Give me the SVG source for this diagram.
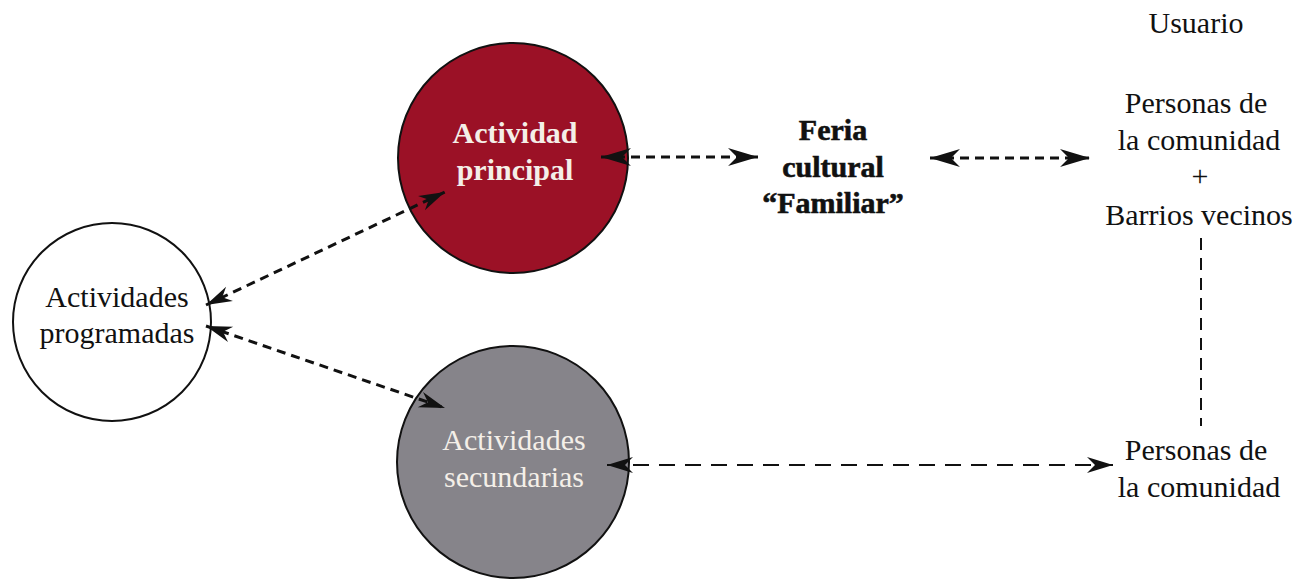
<svg xmlns="http://www.w3.org/2000/svg" width="1301" height="579" viewBox="0 0 1301 579">
<style>
.t{font-family:'Liberation Serif',serif;font-size:30px;text-anchor:middle;fill:#111}
.w{fill:#f4efe8}
.b{font-weight:bold}
.node{stroke:#111;stroke-width:2}
.c1{fill:none;stroke:#111;stroke-width:3;stroke-dasharray:9 6}
.c2{fill:none;stroke:#111;stroke-width:2.2;stroke-dasharray:16 10}
.c3{fill:none;stroke:#111;stroke-width:2;stroke-dasharray:12 8}
</style>
<defs>
<marker id="ah" viewBox="-32 -11 34 22" refX="0" refY="0" markerWidth="34" markerHeight="22" markerUnits="userSpaceOnUse" orient="auto-start-reverse">
<path d="M0,0 L-30,-9 L-21,0 L-30,9 Z" fill="#111"/>
</marker>
<marker id="as" viewBox="-28 -10 30 20" refX="0" refY="0" markerWidth="30" markerHeight="20" markerUnits="userSpaceOnUse" orient="auto-start-reverse">
<path d="M0,0 L-26,-8 L-18,0 L-26,8 Z" fill="#111"/>
</marker>
</defs>
<rect width="1301" height="579" fill="#fff"/>
<g id="n-principal">
<circle class="node" cx="513" cy="158" r="115" fill="#9b1126"/>
<text class="t w b" x="515" y="143">Actividad</text>
<text class="t w b" x="515" y="180">principal</text>
</g>
<g id="n-programadas">
<circle class="node" cx="112" cy="322" r="99" fill="#fff"/>
<text class="t" x="117" y="307">Actividades</text>
<text class="t" x="117" y="343">programadas</text>
</g>
<g id="n-secundarias">
<circle class="node" cx="513" cy="462" r="116" fill="#86848a"/>
<text class="t w" x="514" y="450">Actividades</text>
<text class="t w" x="514" y="487">secundarias</text>
</g>
<g id="n-feria">
<text class="t b" x="833" y="140" stroke="#111" stroke-width="0.6">Feria</text>
<text class="t b" x="833" y="177" stroke="#111" stroke-width="0.6">cultural</text>
<text class="t b" x="833" y="213" stroke="#111" stroke-width="0.6">“Familiar”</text>
</g>
<g id="n-usuario">
<text class="t" x="1196" y="33">Usuario</text>
</g>
<g id="n-personas-barrios">
<text class="t" x="1196" y="113">Personas de</text>
<text class="t" x="1199" y="150">la comunidad</text>
<text class="t" x="1200" y="186">+</text>
<text class="t" x="1199" y="225">Barrios vecinos</text>
</g>
<g id="n-personas">
<text class="t" x="1196" y="460">Personas de</text>
<text class="t" x="1199" y="497">la comunidad</text>
</g>
<g id="connectors">
<path class="c1" d="M601,157 L758,157" marker-start="url(#ah)" marker-end="url(#ah)"/>
<path class="c1" d="M930,158 L1090,158" marker-start="url(#ah)" marker-end="url(#ah)"/>
<path class="c1" d="M206,305 L445,192" marker-start="url(#as)" marker-end="url(#as)"/>
<path class="c1" d="M206,326 L445,408" marker-start="url(#as)" marker-end="url(#as)"/>
<path class="c2" d="M607,465 L1113,465" marker-start="url(#as)" marker-end="url(#as)"/>
<path class="c3" d="M1201,238 L1201,426"/>
</g>
</svg>
